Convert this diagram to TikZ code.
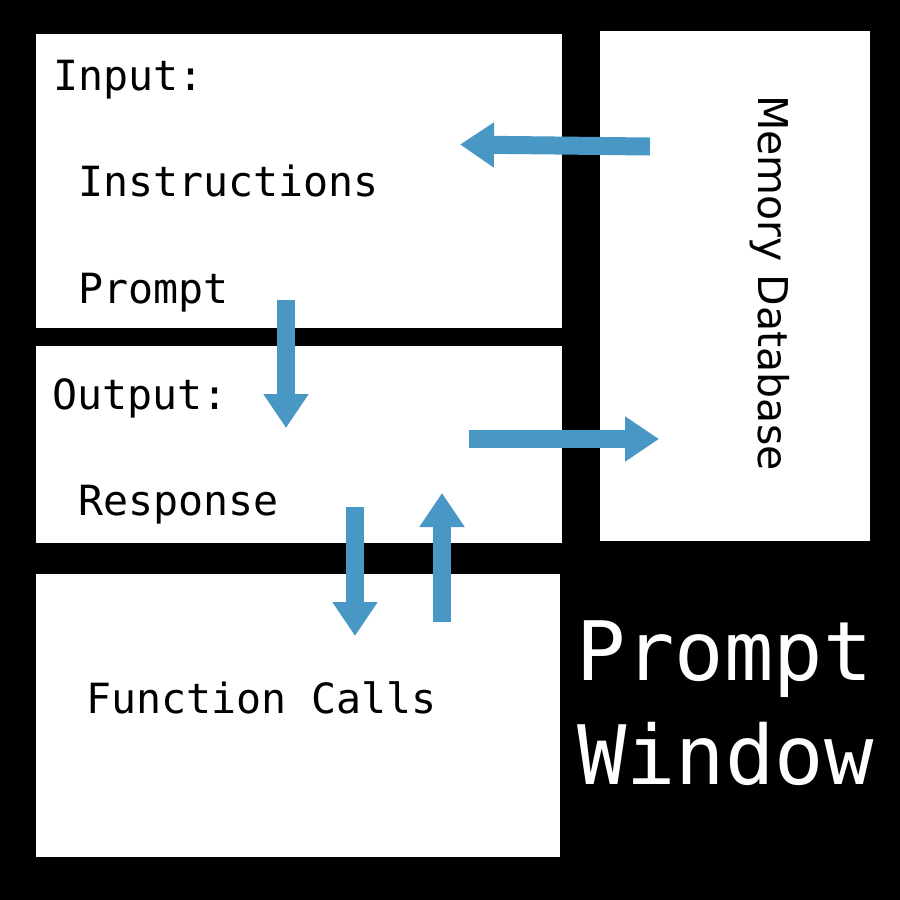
\documentclass[tikz,border=0pt]{standalone}
\usepackage{fontspec}
\setmainfont{DejaVu Sans}
\newfontfamily\monofnt{DejaVu Sans Mono}
\usetikzlibrary{arrows.meta}
\definecolor{arrowblue}{RGB}{72,151,197}
\tikzset{
  panel/.style={fill=white,draw=none},
  blockarrow/.style={draw=arrowblue,line width=18pt,-{Triangle[width=43pt,length=34pt]}},
  smalltxt/.style={anchor=base west,inner sep=0pt,font=\monofnt\fontsize{41.6}{49}\selectfont},
  bigtxt/.style={anchor=base west,inner sep=0pt,text=white,font=\monofnt\fontsize{82}{100}\selectfont},
  sidetxt/.style={anchor=base west,inner sep=0pt,rotate=-90,font=\fontsize{41}{49}\selectfont}
}
\begin{document}
\begin{tikzpicture}[x=1pt,y=-1pt]
\fill[black] (0,0) rectangle (900,900);
\useasboundingbox (0,0) rectangle (900,900);
% panels
\fill[panel] (36,34) rectangle (562,328);
\fill[panel] (36,346) rectangle (562,543);
\fill[panel] (36,574) rectangle (560,857);
\fill[panel] (600,31) rectangle (870,541);
% texts
\node[smalltxt] (input) at (53,90) {Input:};
\node[smalltxt] (instr) at (78,196) {Instructions};
\node[smalltxt] (prompt) at (78,303) {Prompt};
\node[smalltxt] (output) at (52,409) {Output:};
\node[smalltxt] (resp) at (78,515) {Response};
\node[smalltxt] (func) at (86,713) {Function Calls};
\node[sidetxt] (mem) at (758,95) {Memory Database};
\node[bigtxt] (pw1) at (576,680) {Prompt};
\node[bigtxt] (pw2) at (577,784) {Window};
% arrow ends
\coordinate (a1s) at (650,146.5);
\coordinate (a1e) at (460,144.5);
\coordinate (a2s) at (286,300);
\coordinate (a2e) at (286,428);
\coordinate (a3s) at (469,439);
\coordinate (a3e) at (659,439);
\coordinate (a4s) at (355,507);
\coordinate (a4e) at (355,636);
\coordinate (a5s) at (442,622);
\coordinate (a5e) at (442,493);
\draw[blockarrow] (a1s) -- (a1e);
\draw[blockarrow] (a2s) -- (a2e);
\draw[blockarrow] (a3s) -- (a3e);
\draw[blockarrow] (a4s) -- (a4e);
\draw[blockarrow] (a5s) -- (a5e);
\end{tikzpicture}
\end{document}
